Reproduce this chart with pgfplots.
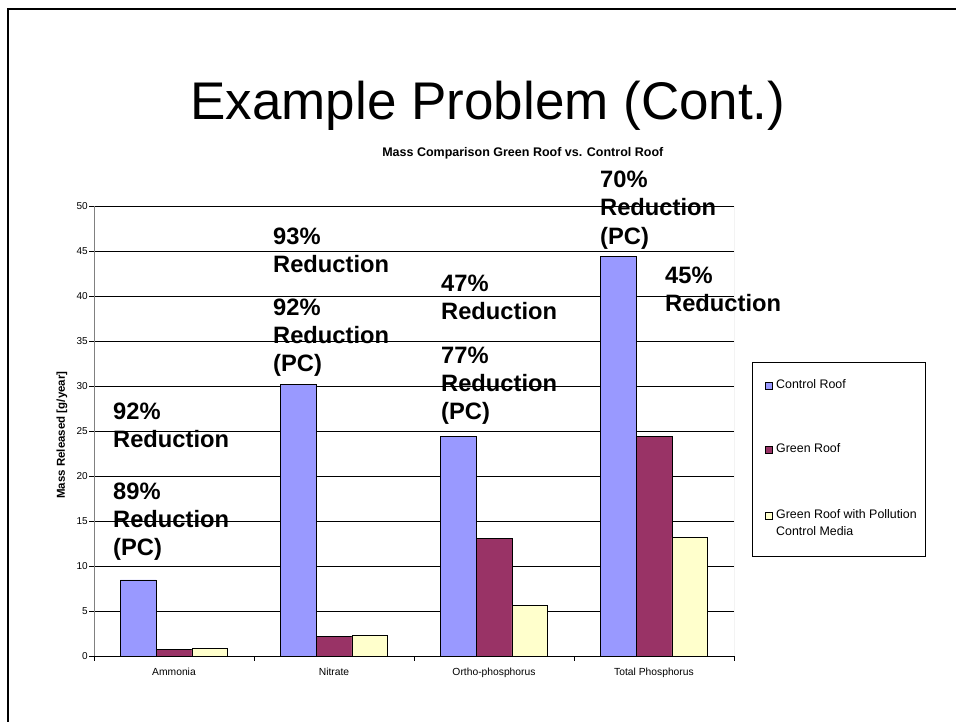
\documentclass[border=0pt]{standalone}
\usepackage{fontspec}
\setmainfont{Liberation Sans}
\usepackage{pgfplots}
\pgfplotsset{compat=1.18}
\definecolor{cctrl}{HTML}{9999FF}
\definecolor{cgreen}{HTML}{993366}
\definecolor{cpc}{HTML}{FFFFCC}
\newcommand\ann[3]{\node[anchor=base west,inner sep=0pt,font=\fontsize{23.7}{28}\selectfont\bfseries] at (#1pt,#2pt) {#3};}
\begin{document}
\begin{tikzpicture}
\useasboundingbox (0,0) rectangle (956pt,722pt);
\fill[white] (0,0) rectangle (956pt,722pt);
\draw[line width=2pt] (8pt,0) -- (8pt,713pt) -- (956pt,713pt);
\node[anchor=base,inner sep=0pt,font=\fontsize{53}{60}\selectfont] at (488pt,602pt) {Example Problem (Cont.)};
\begin{axis}[
  at={(94pt,66pt)}, anchor=south west,
  scale only axis, width=640pt, height=450pt,
  xmin=0, xmax=4, ymin=0, ymax=50,
  ybar=0pt, bar width=35.7pt,
  axis x line*=bottom, axis y line*=left,
  x axis line style={black, line width=0.6pt},
  y axis line style={gray, line width=0.6pt},
  xtick={0,1,2,3,4}, xticklabels={},
  extra x ticks={0.5,1.5,2.5,3.5},
  extra x tick labels={Ammonia,Nitrate,Ortho-phosphorus,Total Phosphorus},
  extra x tick style={major tick length=0pt, xticklabel style={font=\fontsize{10.3}{12}\selectfont, inner sep=0pt, anchor=north, yshift=-12pt}},
  ytick={0,5,...,50},
  tick align=outside, major tick length=5pt,
  tick style={black, line width=0.6pt},
  ymajorgrids=true,
  major grid style={black, line width=0.5pt},
  /pgf/number format/assume math mode=true,
  yticklabel style={font=\fontsize{10}{12}\selectfont, inner sep=1pt},
  title={Mass Comparison Green Roof vs. Control Roof},
  title style={at={(0.67,1)}, anchor=base, yshift=43pt, inner sep=0pt, font=\bfseries\fontsize{12.5}{14}\selectfont},
  ylabel={Mass Released [g/year]},
  ylabel style={at={(axis description cs:-0.05,0.491)}, anchor=center, font=\bfseries\fontsize{11.5}{13}\selectfont},
  every axis plot/.append style={draw=black, line width=0.6pt},
]
\addplot[fill=cctrl] coordinates {(0.5,8.45) (1.5,30.2) (2.5,24.4) (3.5,44.4)};
\addplot[fill=cgreen] coordinates {(0.5,0.75) (1.5,2.15) (2.5,13.05) (3.5,24.4)};
\addplot[fill=cpc] coordinates {(0.5,0.85) (1.5,2.3) (2.5,5.65) (3.5,13.2)};
\draw[gray!70, line width=0.8pt] (rel axis cs:1,0) -- (rel axis cs:1,1);
\end{axis}
% annotations
\ann{113}{302}{92\%}
\ann{113}{274}{Reduction}
\ann{113}{222}{89\%}
\ann{113}{194}{Reduction}
\ann{113}{166}{(PC)}
\ann{273}{477}{93\%}
\ann{273}{449}{Reduction}
\ann{273}{406}{92\%}
\ann{273}{378}{Reduction}
\ann{273}{350}{(PC)}
\ann{441}{430}{47\%}
\ann{441}{402}{Reduction}
\ann{441}{358}{77\%}
\ann{441}{330}{Reduction}
\ann{441}{302}{(PC)}
\ann{600}{534}{70\%}
\ann{600}{506}{Reduction}
\ann{600}{477}{(PC)}
\ann{665}{438}{45\%}
\ann{665}{410}{Reduction}
% legend
\draw[black, line width=0.6pt] (752pt,166pt) rectangle (925pt,360pt);
\begin{scope}[every node/.style={anchor=base west, inner sep=0pt, font=\fontsize{12.4}{17}\selectfont}]
\filldraw[fill=cctrl, draw=black, line width=0.5pt] (765pt,333pt) rectangle (772pt,340pt);
\node at (776pt,333pt) {Control Roof};
\filldraw[fill=cgreen, draw=black, line width=0.5pt] (765pt,269pt) rectangle (772pt,276pt);
\node at (776pt,269pt) {Green Roof};
\filldraw[fill=cpc, draw=black, line width=0.5pt] (765pt,203pt) rectangle (772pt,210pt);
\node at (776pt,203pt) {Green Roof with Pollution};
\node at (776pt,186pt) {Control Media};
\end{scope}
\end{tikzpicture}
\end{document}
